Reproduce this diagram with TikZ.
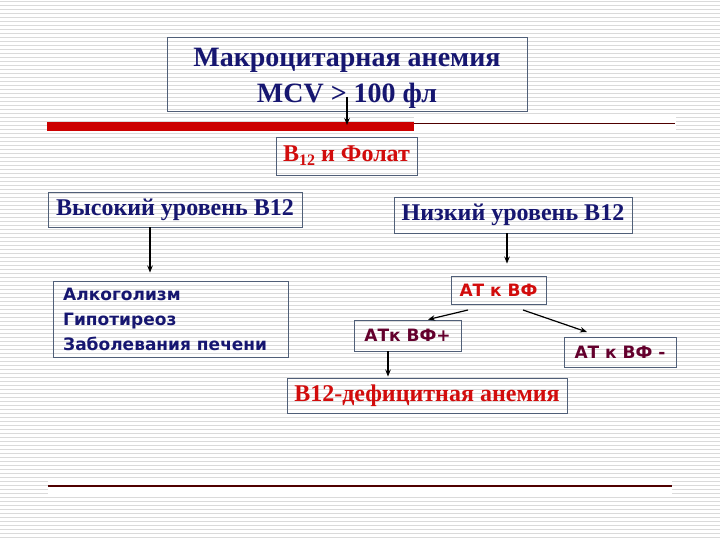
\documentclass[tikz,border=0pt]{standalone}
\usepackage{fontspec}
\setmainfont{Liberation Serif}
\newfontfamily\vfont{DejaVu Sans}
\usetikzlibrary{arrows.meta}
\definecolor{navytxt}{RGB}{22,22,112}
\definecolor{redtxt}{RGB}{210,12,12}
\definecolor{maroontxt}{RGB}{100,0,45}
\definecolor{boxline}{RGB}{80,95,120}
\definecolor{stripe}{RGB}{218,218,218}
\definecolor{redbar}{RGB}{204,0,0}
\definecolor{darkline}{RGB}{80,0,0}
\tikzset{
  box/.style={draw=boxline, line width=0.9pt, inner sep=0pt, align=center},
  serifbig/.style={font=\fontsize{28}{36}\selectfont\bfseries, text=navytxt},
  serifmid/.style={font=\fontsize{24}{28}\selectfont\bfseries},
  sansmid/.style={font=\vfont\fontsize{17}{25}\selectfont\bfseries},
  conn/.style={line width=1.2pt, -{Stealth[length=7pt,width=5.5pt]}}
}
\begin{document}
\begin{tikzpicture}[x=1pt,y=-1pt]
\useasboundingbox (0,0) rectangle (720,540);
\fill[white] (0,0) rectangle (720,540);
\foreach \i in {0,...,134} {
  \fill[stripe] (0,{\i*4+1}) rectangle (720,{\i*4+2.3});
}
% white bands behind lines
\fill[white] (48,479) rectangle (672,495);
\fill[white] (414,117) rectangle (676,130);
% red bar and lines
\fill[redbar] (47,122) rectangle (414,131);
\draw[darkline, line width=1pt] (414,123.5) -- (675,123.5);
\draw[darkline, line width=1.2pt] (48,486) -- (672,486);

% boxes
\node[box, minimum width=360pt, minimum height=74pt] (top) at (347,74) {};
\node[serifbig, align=center, inner sep=0pt] (toptxt) at (347,78)
  {Макроцитарная анемия\\MCV > 100 фл};
\node[box, serifmid, text=redtxt, minimum width=141pt, minimum height=38pt] (fol) at (346.5,156)
  {B\raisebox{-0.35ex}{\fontsize{16}{16}\selectfont 12} и Фолат};
\node[box, serifmid, text=navytxt, minimum width=254pt, minimum height=35pt] (high) at (175,209.5)
  {Высокий уровень B12};
\node[box, serifmid, text=navytxt, minimum width=238pt, minimum height=36pt] (low) at (513,215)
  {Низкий уровень B12};
\node[box, minimum width=235pt, minimum height=76pt] (alc) at (170.5,319) {};
\node[sansmid, text=navytxt, anchor=west, align=left, inner sep=0pt] (alctxt) at (63,319)
  {Алкоголизм\\Гипотиреоз\\Заболевания печени};
\node[box, sansmid, text=redtxt, minimum width=95pt, minimum height=28pt] (atvf) at (498.5,290)
  {АТ к ВФ};
\node[box, sansmid, text=maroontxt, minimum width=107pt, minimum height=31pt] (atp) at (407.5,335.5)
  {АТк ВФ+};
\node[box, serifmid, text=redtxt, minimum width=280pt, minimum height=35pt] (def) at (427,395.5)
  {B12-дефицитная анемия};
\node[box, sansmid, text=maroontxt, minimum width=112pt, minimum height=30pt] (atm) at (620,352)
  {АТ к ВФ -};

% connectors
\coordinate (a1s) at (347,97);
\coordinate (a1e) at (347,125);
\draw[conn] (a1s) -- (a1e);
\draw[conn, shorten >=8pt] (high.south -| 150,0) -- (alc.north -| 150,0);
\draw[conn, shorten >=12pt] (low.south -| 507,0) -- (atvf.north -| 507,0);
\coordinate (a4s) at (468,310);
\coordinate (a5s) at (523,310);
\coordinate (a5e) at (587,332);
\draw[conn] (a4s) -- (atp.north -| 428,0);
\draw[conn] (a5s) -- (a5e);
\draw[conn, shorten >=1pt] (atp.south -| 388,0) -- (def.north -| 388,0);
\end{tikzpicture}
\end{document}
